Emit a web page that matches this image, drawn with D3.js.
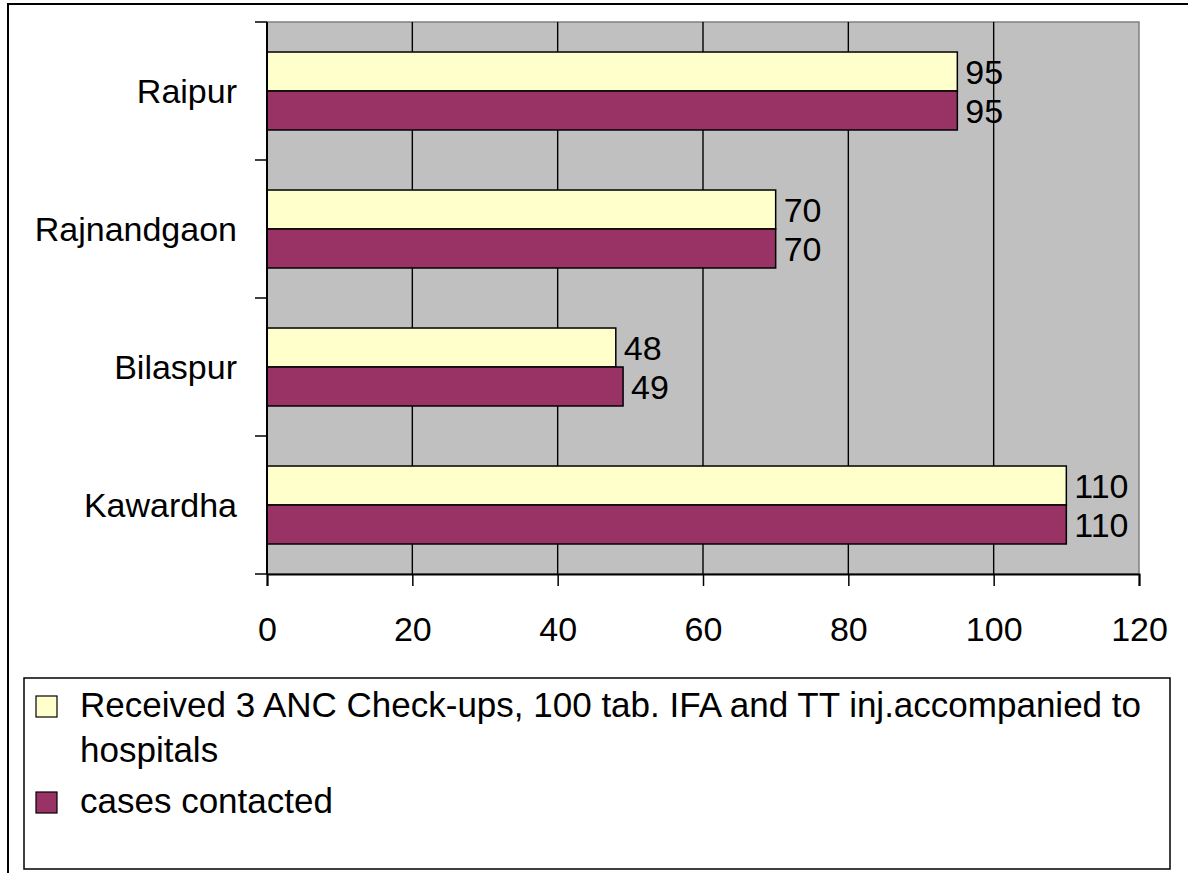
<!DOCTYPE html>
<html>
<head>
<meta charset="utf-8">
<title>ANC chart</title>
<script src="https://d3js.org/d3.v7.min.js"></script>
<style>
  body { margin: 0; background: #fff; }
  text { font-family: "Liberation Sans", Arial, sans-serif; fill: #000; }
</style>
</head>
<body>
<svg width="1188" height="873"></svg>
<script>
// data
var districts = ["Raipur", "Rajnandgaon", "Bilaspur", "Kawardha"];
var seriesNames = ["Received 3 ANC Check-ups, 100 tab. IFA and TT inj.accompanied to hospitals",
                   "cases contacted"];
var received = [95, 70, 48, 110];
var contacted = [95, 70, 49, 110];
var xTicks = [0, 20, 40, 60, 80, 100, 120];
var colors = ["#FFFFCC", "#993366"];

var svg = d3.select("svg");

// outer chart border (runs off right / bottom edge)
svg.append("rect").attr("x", 8).attr("y", 4).attr("width", 1300).attr("height", 1000)
  .attr("fill", "none").attr("stroke", "#000").attr("stroke-width", 2);

var x = d3.scaleLinear().domain([0, 120]).range([267, 1139]);
var y = d3.scaleBand().domain(districts).range([22, 574]);
var inner = d3.scaleBand().domain([0, 1]).range([0, y.bandwidth()]).paddingOuter(0.77);

// plot area
svg.append("rect").attr("x", x(0)).attr("y", 22).attr("width", x(120) - x(0)).attr("height", 552)
  .attr("fill", "#C0C0C0").attr("stroke", "#808080").attr("stroke-width", 1.5);

// gridlines
svg.append("g").selectAll("line").data(xTicks.slice(1, -1)).enter().append("line")
  .attr("x1", function(d){ return x(d); }).attr("x2", function(d){ return x(d); })
  .attr("y1", 22).attr("y2", 574)
  .attr("stroke", "#000").attr("stroke-width", 1.4);

// bars
var rows = districts.map(function(d, i){ return {name: d, vals: [received[i], contacted[i]]}; });
var grp = svg.append("g").selectAll("g").data(rows).enter().append("g")
  .attr("transform", function(d){ return "translate(0," + y(d.name) + ")"; });

grp.selectAll("rect").data(function(d){ return d.vals; }).enter().append("rect")
  .attr("x", x(0))
  .attr("y", function(d, i){ return inner(i); })
  .attr("width", function(d){ return x(d) - x(0); })
  .attr("height", inner.bandwidth())
  .attr("fill", function(d, i){ return colors[i]; })
  .attr("stroke", "#000").attr("stroke-width", 1.5);

grp.selectAll("text").data(function(d){ return d.vals; }).enter().append("text")
  .attr("x", function(d){ return x(d) + 8; })
  .attr("y", function(d, i){ return inner(i) + inner.bandwidth() / 2; })
  .attr("dy", "0.36em")
  .style("font-size", "34px")
  .text(function(d){ return d; });

// x axis
var xAxis = svg.append("g").attr("transform", "translate(0,574)")
  .call(d3.axisBottom(x).tickValues(xTicks).tickSize(12).tickPadding(31));
xAxis.select(".domain").attr("stroke-width", 2);
xAxis.selectAll(".tick line").attr("stroke-width", 1.5);
xAxis.selectAll("text").style("font-size", "34px").attr("font-family", null);

// y axis: ticks on category boundaries
var yAxisG = svg.append("g").attr("transform", "translate(" + x(0) + ",0)");
yAxisG.append("line").attr("x1", 0).attr("x2", 0).attr("y1", 22).attr("y2", 574)
  .attr("stroke", "#000").attr("stroke-width", 2);
var bounds = districts.map(function(d){ return y(d); }).concat([574]);
yAxisG.selectAll(".yt").data(bounds).enter().append("line").attr("class", "yt")
  .attr("x1", -12).attr("x2", 0)
  .attr("y1", function(d){ return d; }).attr("y2", function(d){ return d; })
  .attr("stroke", "#000").attr("stroke-width", 1.5);
yAxisG.selectAll("text").data(districts).enter().append("text")
  .attr("x", -30)
  .attr("y", function(d){ return y(d) + y.bandwidth() / 2; })
  .attr("dy", "0.36em")
  .attr("text-anchor", "end")
  .style("font-size", "34px")
  .text(function(d){ return d; });

// legend
var legend = svg.append("g");
legend.append("rect").attr("x", 24).attr("y", 678).attr("width", 1146).attr("height", 191)
  .attr("fill", "#fff").attr("stroke", "#000").attr("stroke-width", 1.5);

var legendBase = [717, 813];
seriesNames.forEach(function(name, i){
  legend.append("rect").attr("x", 36).attr("y", legendBase[i] - 21).attr("width", 21).attr("height", 21)
    .attr("fill", colors[i]).attr("stroke", "#000").attr("stroke-width", 1.2);
  var t = legend.append("text").attr("x", 80).attr("y", legendBase[i]).style("font-size", "35px");
  // simple word wrap inside the legend box
  var words = name.split(" "), line = [], ts = t.append("tspan").attr("x", 80);
  words.forEach(function(w){
    line.push(w);
    ts.text(line.join(" "));
    if (ts.node().getComputedTextLength() > 1080 && line.length > 1) {
      line.pop();
      ts.text(line.join(" "));
      line = [w];
      ts = t.append("tspan").attr("x", 80).attr("dy", 45).text(w);
    }
  });
});
</script>
</body>
</html>
